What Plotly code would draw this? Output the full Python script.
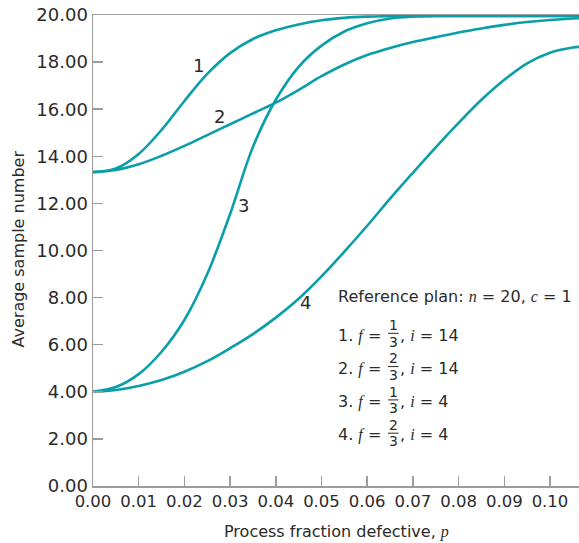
import plotly.graph_objects as go

# ---------------- data ----------------
p_values = [0.0, 0.005, 0.01, 0.015, 0.02, 0.025, 0.03, 0.035, 0.04, 0.045,
            0.05, 0.055, 0.06, 0.065, 0.07, 0.075, 0.08, 0.085, 0.09, 0.095,
            0.10, 0.105, 0.1065]

asn_1 = [13.33, 13.48, 14.10, 15.12, 16.35, 17.50, 18.38, 18.98, 19.35, 19.60,
         19.78, 19.88, 19.93, 19.95, 19.96, 19.96, 19.96, 19.96, 19.96, 19.96,
         19.96, 19.96, 19.96]
asn_2 = [13.33, 13.42, 13.66, 14.02, 14.44, 14.90, 15.36, 15.82, 16.28, 16.82,
         17.40, 17.90, 18.30, 18.60, 18.85, 19.06, 19.26, 19.43, 19.58, 19.70,
         19.79, 19.85, 19.86]
asn_3 = [4.00, 4.20, 4.75, 5.70, 7.05, 9.00, 11.55, 14.40, 16.40, 17.80,
         18.70, 19.30, 19.65, 19.85, 19.93, 19.96, 19.96, 19.96, 19.96, 19.96,
         19.96, 19.96, 19.96]
asn_4 = [4.00, 4.08, 4.25, 4.50, 4.85, 5.30, 5.85, 6.45, 7.15, 7.95,
         8.90, 9.95, 11.05, 12.20, 13.30, 14.38, 15.42, 16.40, 17.25, 17.95,
         18.40, 18.62, 18.65]

curve_names = ["1", "2", "3", "4"]
x_ticks = [0.0, 0.01, 0.02, 0.03, 0.04, 0.05, 0.06, 0.07, 0.08, 0.09, 0.10]
y_ticks = [0, 2, 4, 6, 8, 10, 12, 14, 16, 18, 20]

plan_title = 'Reference plan: <span style="font-family:Liberation Serif"><i>n</i></span> = 20, <span style="font-family:Liberation Serif"><i>c</i></span> = 1'
plan_numerators = ["1", "2", "1", "2"]
plan_denominators = ["3", "3", "3", "3"]
plan_i = ["14", "14", "4", "4"]

# ---------------- styling ----------------
TEAL = "#0a9fa8"
GRAY = "#9c9c9c"
TXT = "#2b2b2b"
FONT = "DejaVu Sans"
SERIF = "Liberation Serif"

W, H = 579, 543
ML, MR, MT, MB = 93, 0, 15, 57
PW = W - ML - MR
PH = H - MT - MB


def px_x(px):
    return (px - ML) / PW


def px_y(py):
    return (H - MB - py) / PH


fig = go.Figure()
for name, ys in zip(curve_names, [asn_1, asn_2, asn_3, asn_4]):
    fig.add_trace(go.Scatter(x=p_values, y=ys, mode="lines", name=name,
                             line=dict(color=TEAL, width=2.6, shape="spline", smoothing=1.0),
                             showlegend=False, hoverinfo="skip"))

annotations = []
# curve labels
label_px = [(198, 66), (219, 117), (243, 205), (305, 302)]
for name, (lx, ly) in zip(curve_names, label_px):
    annotations.append(dict(x=px_x(lx), y=px_y(ly), xref="paper", yref="paper",
                            text=name, showarrow=False, xanchor="center", yanchor="middle",
                            font=dict(family=FONT, size=18, color=TXT)))

# axis titles
annotations.append(dict(x=px_x(336), y=px_y(531), xref="paper", yref="paper",
                        text='Process fraction defective, <span style="font-family:Liberation Serif"><i>p</i></span>',
                        showarrow=False, xanchor="center", yanchor="middle",
                        font=dict(family=FONT, size=16, color=TXT)))
annotations.append(dict(x=px_x(17.5), y=px_y(249), xref="paper", yref="paper",
                        text="Average sample number", textangle=-90,
                        showarrow=False, xanchor="center", yanchor="middle",
                        font=dict(family=FONT, size=16, color=TXT)))

# plan block
annotations.append(dict(x=px_x(336), y=px_y(296), xref="paper", yref="paper",
                        text=plan_title, showarrow=False, xanchor="left", yanchor="middle",
                        font=dict(family=FONT, size=16, color=TXT)))
shapes = []
for k in range(4):
    yc = 335 + 33.3 * k
    annotations.append(dict(x=px_x(336), y=px_y(yc), xref="paper", yref="paper",
                            text=f'{k + 1}. <span style="font-family:{SERIF}"><i>f</i></span> =',
                            showarrow=False, xanchor="left", yanchor="middle",
                            font=dict(family=FONT, size=16, color=TXT)))
    annotations.append(dict(x=px_x(393), y=px_y(yc - 10), xref="paper", yref="paper",
                            text=plan_numerators[k], showarrow=False, xanchor="center", yanchor="middle",
                            font=dict(family=FONT, size=14, color=TXT)))
    annotations.append(dict(x=px_x(393), y=px_y(yc + 6.5), xref="paper", yref="paper",
                            text=plan_denominators[k], showarrow=False, xanchor="center", yanchor="middle",
                            font=dict(family=FONT, size=14, color=TXT)))
    annotations.append(dict(x=px_x(398), y=px_y(yc), xref="paper", yref="paper",
                            text=f', <span style="font-family:{SERIF}"><i>i</i></span> = {plan_i[k]}',
                            showarrow=False, xanchor="left", yanchor="middle",
                            font=dict(family=FONT, size=16, color=TXT)))
    shapes.append(dict(type="line", xref="paper", yref="paper",
                       x0=px_x(388), x1=px_x(398.5), y0=px_y(yc - 1.7), y1=px_y(yc - 1.7),
                       line=dict(color=TXT, width=1)))

fig.update_layout(
    width=W, height=H,
    margin=dict(l=ML, r=MR, t=MT, b=MB, pad=0),
    paper_bgcolor="white", plot_bgcolor="white",
    showlegend=False,
    hovermode=False,
    annotations=annotations,
    shapes=shapes,
    xaxis=dict(range=[0, PW / 4570.0], tickmode="array", tickvals=x_ticks, tickformat=".2f",
               ticks="inside", ticklen=10, tickwidth=1.5, tickcolor=GRAY,
               showline=True, linecolor=GRAY, linewidth=1.5, mirror=True,
               showgrid=False, zeroline=False, automargin=False,
               tickfont=dict(family=FONT, size=16.5, color=TXT)),
    yaxis=dict(range=[0, 20], tickmode="array", tickvals=y_ticks, tickformat=".2f",
               ticks="inside", ticklen=10, tickwidth=1.5, tickcolor=GRAY,
               showline=True, linecolor=GRAY, linewidth=1.5, mirror=False,
               showgrid=False, zeroline=False, automargin=False,
               tickfont=dict(family=FONT, size=18, color=TXT)),
)

fig.write_html(
    "out.html",
    config={"displayModeBar": False, "staticPlot": True},
    post_script="document.body.style.margin='0px';document.body.style.overflow='hidden';",
)
